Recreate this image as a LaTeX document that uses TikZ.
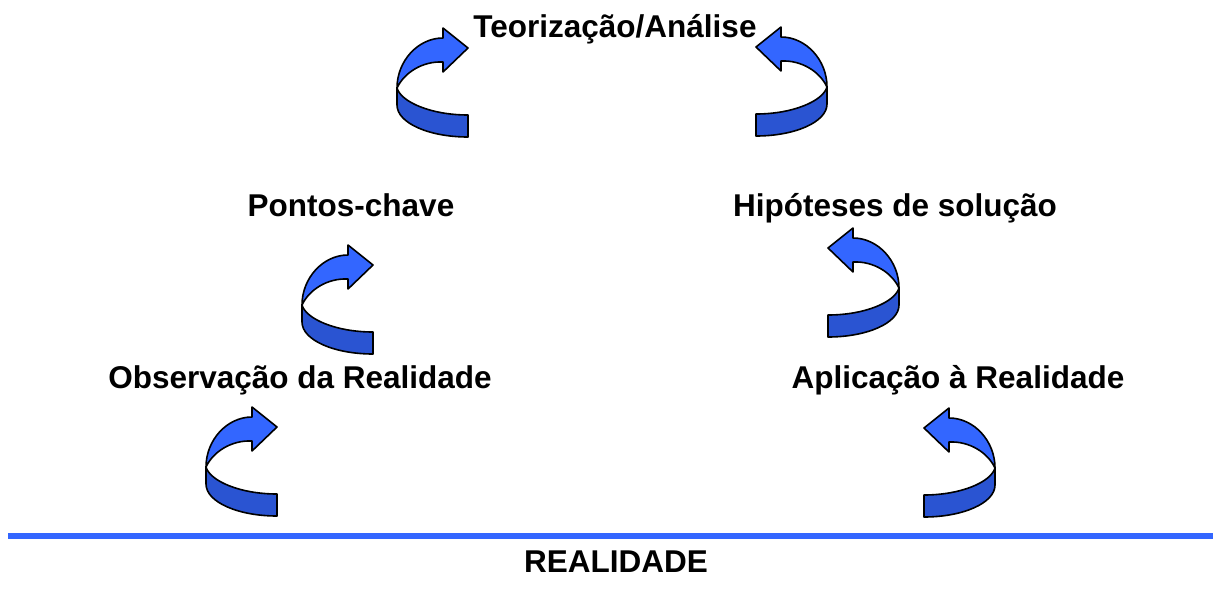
\documentclass[tikz,border=0pt]{standalone}
\usepackage{fontspec}
\setmainfont{Liberation Sans}
\definecolor{lightblue}{RGB}{51,102,255}
\definecolor{darkblue}{RGB}{42,84,210}
\tikzset{
  lbl/.style={font=\fontsize{31.5}{36}\selectfont\bfseries, anchor=base, inner sep=0pt},
  band/.style={draw=black, line width=1.6pt, line join=round},
  curlarrow/.pic={
    \path[band, fill=darkblue] (0,0) -- (0,17) .. controls (0,35) and (32,49) .. (71,49)
      -- (71,27) .. controls (34,27) and (4,14) .. (0,0) -- cycle;
    \path[band, fill=lightblue] (0,0) .. controls (0,-27) and (21,-50) .. (46,-50)
      -- (46,-60) -- (71,-40) -- (46,-16) -- (46,-26)
      .. controls (25,-27) and (7,-15) .. (0,0) -- cycle;
  }
}
\begin{document}
\begin{tikzpicture}[x=1pt, y=-1pt]
\useasboundingbox (0,0) rectangle (1213,598);
% labels
\node[lbl] (teo) at (615,37) {Teorização/Análise};
\node[lbl] (pon) at (351,216) {Pontos-chave};
\node[lbl] (hip) at (895,216) {Hipóteses de solução};
\node[lbl] (obs) at (300,388) {Observação da Realidade};
\node[lbl] (apl) at (958,388) {Aplicação à Realidade};
\node[lbl] (rea) at (616,572) {REALIDADE};
% base line
\coordinate (l1) at (8,536);
\coordinate (l2) at (1213,536);
\draw[lightblue, line width=6pt] (l1) -- (l2);
% curled arrows
\pic at (206,467) {curlarrow};
\pic at (302,305) {curlarrow};
\pic at (397,88) {curlarrow};
\pic[xscale=-1] at (827,87) {curlarrow};
\pic[xscale=-1] at (899,288) {curlarrow};
\pic[xscale=-1] at (995,468) {curlarrow};
\end{tikzpicture}
\end{document}
